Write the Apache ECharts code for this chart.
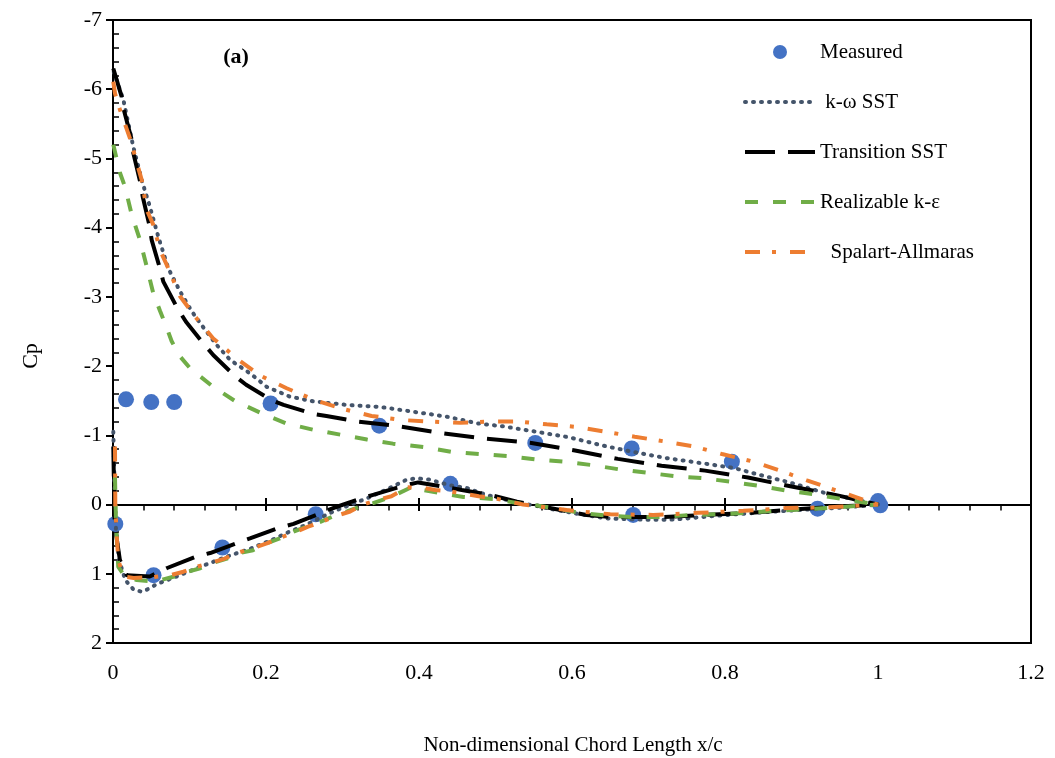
<!DOCTYPE html>
<html><head><meta charset="utf-8">
<script src="https://cdn.jsdelivr.net/npm/echarts@6/dist/echarts.min.js"></script>
<style>html,body{margin:0;padding:0;background:#fff}#c{width:1055px;height:758px}</style>
</head><body><div id="c"></div>
<script>
// ---- data ----
const xTicks = [0, 0.2, 0.4, 0.6, 0.8, 1, 1.2];
const cpTicks = [-7, -6, -5, -4, -3, -2, -1, 0, 1, 2];
const seriesNames = ['Measured', 'k-ω SST', 'Transition SST', 'Realizable k-ε', 'Spalart-Allmaras'];

const measuredX  = [0.003, 0.017, 0.050, 0.080, 0.053, 0.143, 0.206, 0.265, 0.348, 0.441, 0.552, 0.678, 0.680, 0.809, 0.921, 1.000, 1.003];
const measuredCp = [0.28, -1.52, -1.48, -1.48, 1.02, 0.62, -1.46, 0.14, -1.14, -0.30, -0.89, -0.81, 0.15, -0.62, 0.06, -0.05, 0.01];

const komegaUpper = [[0.001,-6.25],[0.0135,-5.85],[0.0265,-5.17],[0.0388,-4.64],[0.0475,-4.33],[0.0592,-3.87],[0.0723,-3.41],[0.0876,-3.08],[0.103,-2.79],[0.120,-2.53],[0.136,-2.30],[0.153,-2.09],[0.181,-1.88],[0.201,-1.70],[0.231,-1.56],[0.262,-1.49],[0.305,-1.44],[0.349,-1.41],[0.393,-1.34],[0.436,-1.27],[0.478,-1.17],[0.510,-1.13],[0.554,-1.05],[0.597,-0.97],[0.637,-0.86],[0.680,-0.76],[0.724,-0.67],[0.768,-0.60],[0.811,-0.53],[0.855,-0.40],[0.881,-0.33],[0.933,-0.16],[0.976,-0.06],[1.0,0.0]];
const komegaLower = [[0.0004,-1.05],[0.002,-0.3],[0.004,0.4],[0.008,0.8],[0.016,1.09],[0.027,1.23],[0.038,1.26],[0.048,1.21],[0.057,1.15],[0.083,1.04],[0.114,0.90],[0.149,0.75],[0.179,0.64],[0.210,0.50],[0.227,0.41],[0.253,0.29],[0.288,0.10],[0.332,-0.09],[0.362,-0.24],[0.384,-0.36],[0.397,-0.38],[0.414,-0.36],[0.440,-0.28],[0.462,-0.24],[0.488,-0.14],[0.506,-0.09],[0.532,-0.02],[0.554,0.02],[0.580,0.08],[0.610,0.14],[0.645,0.20],[0.671,0.21],[0.698,0.22],[0.724,0.22],[0.741,0.21],[0.780,0.17],[0.839,0.12],[0.881,0.09],[0.959,0.04],[1.0,0.0]];

const transUpper = [[0.0004,-6.30],[0.0114,-5.89],[0.0135,-5.73],[0.0244,-5.27],[0.0265,-5.08],[0.0353,-4.67],[0.0388,-4.45],[0.0475,-4.04],[0.0506,-3.82],[0.0614,-3.41],[0.0658,-3.22],[0.084,-2.84],[0.0954,-2.64],[0.118,-2.33],[0.131,-2.16],[0.159,-1.86],[0.174,-1.73],[0.207,-1.51],[0.223,-1.44],[0.262,-1.31],[0.279,-1.28],[0.319,-1.20],[0.375,-1.13],[0.431,-1.03],[0.488,-0.95],[0.547,-0.89],[0.604,-0.78],[0.660,-0.66],[0.717,-0.56],[0.774,-0.49],[0.830,-0.39],[0.887,-0.26],[0.944,-0.14],[1.0,0.0]];
const transLower = [[0.0004,-0.84],[0.002,0.2],[0.005,0.5],[0.009,0.80],[0.018,1.02],[0.048,1.04],[0.070,0.92],[0.109,0.75],[0.127,0.70],[0.161,0.56],[0.179,0.49],[0.216,0.34],[0.236,0.28],[0.270,0.13],[0.288,0.05],[0.325,-0.09],[0.340,-0.14],[0.379,-0.27],[0.399,-0.32],[0.436,-0.25],[0.456,-0.21],[0.493,-0.14],[0.528,-0.04],[0.571,0.05],[0.619,0.15],[0.650,0.18],[0.719,0.18],[0.772,0.15],[0.835,0.12],[0.889,0.07],[0.944,0.03],[1.0,0.0]];

const realUpper = [[0.0004,-5.20],[0.004,-5.03],[0.0092,-4.79],[0.0157,-4.59],[0.0244,-4.19],[0.0353,-3.82],[0.044,-3.44],[0.0527,-3.05],[0.0614,-2.80],[0.070,-2.56],[0.0767,-2.36],[0.0876,-2.14],[0.1007,-1.97],[0.131,-1.70],[0.159,-1.50],[0.194,-1.32],[0.227,-1.17],[0.262,-1.08],[0.297,-1.01],[0.332,-0.94],[0.366,-0.88],[0.406,-0.83],[0.443,-0.76],[0.480,-0.73],[0.517,-0.70],[0.554,-0.65],[0.589,-0.62],[0.626,-0.57],[0.661,-0.51],[0.698,-0.46],[0.735,-0.41],[0.772,-0.38],[0.807,-0.33],[0.844,-0.27],[0.881,-0.20],[0.915,-0.15],[0.953,-0.08],[1.0,0.0]];
const realLower = [[0.0026,-0.40],[0.004,0.3],[0.0069,0.90],[0.0157,1.04],[0.031,1.09],[0.053,1.11],[0.063,1.09],[0.080,1.04],[0.098,0.97],[0.114,0.92],[0.131,0.84],[0.149,0.78],[0.166,0.70],[0.183,0.66],[0.201,0.56],[0.218,0.49],[0.236,0.39],[0.253,0.32],[0.271,0.25],[0.288,0.17],[0.306,0.10],[0.323,0.03],[0.340,-0.02],[0.358,-0.09],[0.371,-0.15],[0.392,-0.26],[0.406,-0.21],[0.425,-0.17],[0.441,-0.14],[0.458,-0.11],[0.497,-0.08],[0.530,-0.02],[0.558,0.02],[0.576,0.05],[0.610,0.12],[0.645,0.16],[0.680,0.18],[0.719,0.18],[0.754,0.15],[0.791,0.14],[0.828,0.12],[0.865,0.09],[0.902,0.07],[0.939,0.045],[1.0,0.0]];

const saUpper = [[0.0004,-6.11],[0.0026,-5.94],[0.0092,-5.70],[0.0222,-5.29],[0.0375,-4.69],[0.044,-4.26],[0.0527,-4.04],[0.0614,-3.68],[0.0723,-3.41],[0.0876,-3.01],[0.107,-2.72],[0.131,-2.40],[0.164,-2.09],[0.193,-1.86],[0.227,-1.68],[0.266,-1.50],[0.301,-1.38],[0.338,-1.28],[0.379,-1.22],[0.414,-1.20],[0.454,-1.18],[0.493,-1.20],[0.530,-1.20],[0.567,-1.16],[0.608,-1.12],[0.645,-1.05],[0.682,-0.98],[0.722,-0.91],[0.759,-0.84],[0.796,-0.73],[0.837,-0.62],[0.872,-0.49],[0.907,-0.35],[0.944,-0.21],[0.981,-0.07],[1.0,0.0]];
const saLower = [[0.0026,-0.84],[0.003,0.0],[0.0049,0.46],[0.0069,0.80],[0.0135,1.04],[0.027,1.06],[0.050,1.05],[0.075,1.02],[0.092,0.97],[0.109,0.90],[0.129,0.84],[0.146,0.78],[0.162,0.70],[0.183,0.63],[0.201,0.56],[0.218,0.48],[0.238,0.40],[0.255,0.32],[0.273,0.25],[0.290,0.17],[0.310,0.10],[0.327,0.0],[0.347,-0.07],[0.364,-0.12],[0.385,-0.25],[0.406,-0.24],[0.421,-0.21],[0.441,-0.19],[0.478,-0.12],[0.499,-0.09],[0.536,0.0],[0.593,0.08],[0.650,0.14],[0.706,0.15],[0.765,0.12],[0.824,0.09],[0.881,0.05],[0.937,0.04],[1.0,0.0]];

// ---- chart ----
const FONT = '"Liberation Serif", "Times New Roman", serif';
const join = (u, l) => u.concat([[null, null]], l);
const measured = measuredX.map((x, i) => [x, measuredCp[i]]);

const chart = echarts.init(document.getElementById('c'), null, {renderer: 'canvas'});
const axisLineStyle = {color: '#000', width: 2};
const baseX = {type: 'value', min: xTicks[0], max: xTicks[xTicks.length - 1], interval: 0.2, splitLine: {show: false}};

chart.setOption({
  animation: false,
  backgroundColor: '#fff',
  grid: {left: 113, right: 24, top: 20, bottom: 115, show: true, borderColor: '#000', borderWidth: 2, outerBoundsMode: 'none'},
  xAxis: [
    Object.assign({}, baseX, {position: 'bottom', axisLine: {show: false, onZero: false}, axisTick: {show: false},
      axisLabel: {margin: 19, color: '#000', fontFamily: FONT, fontSize: 22}}),
    Object.assign({}, baseX, {position: 'top', axisLine: {show: true, onZero: true, onZeroAxisIndex: 0, lineStyle: axisLineStyle},
      axisTick: {show: true, length: 6.5, lineStyle: {color: '#000', width: 2}},
      minorTick: {show: true, splitNumber: 5, length: -6, lineStyle: {color: '#000', width: 1.5}},
      axisLabel: {show: false}}),
    Object.assign({}, baseX, {position: 'bottom', axisLine: {show: false, onZero: true, onZeroAxisIndex: 0},
      axisTick: {show: true, length: 6.5, lineStyle: {color: '#000', width: 2}}, axisLabel: {show: false}})
  ],
  yAxis: {
    type: 'value', inverse: true, min: cpTicks[0], max: cpTicks[cpTicks.length - 1], interval: 1,
    axisLine: {show: true, onZero: false, lineStyle: axisLineStyle},
    axisTick: {show: true, length: 7, lineStyle: {color: '#000', width: 2}},
    minorTick: {show: true, splitNumber: 5, length: -6, lineStyle: {color: '#000', width: 1.5}},
    splitLine: {show: false},
    axisLabel: {margin: 11, color: '#000', fontFamily: FONT, fontSize: 22}
  },
  legend: {
    orient: 'vertical', left: 738, top: 36, itemWidth: 70, itemHeight: 14, itemGap: 28,
    textStyle: {fontFamily: FONT, fontSize: 21, color: '#000', lineHeight: 22},
    itemStyle: {opacity: 0},
    lineStyle: {width: 4},
    data: seriesNames.map((n, i) => i === 0 ? {name: n, itemStyle: {opacity: 1, color: '#4472C4'}} : {name: n}),
    formatter: n => (n === 'k-ω SST' ? ' ' : n === 'Spalart-Allmaras' ? '  ' : '') + n
  },
  graphic: [
    {type: 'text', x: 31, y: 356, rotation: Math.PI / 2,
      style: {text: 'Cp', fill: '#000', font: '22px ' + FONT, align: 'center', verticalAlign: 'middle'}},
    {type: 'text', x: 573, y: 745,
      style: {text: 'Non-dimensional Chord Length x/c', fill: '#000', font: '21px ' + FONT, align: 'center', verticalAlign: 'middle'}},
    {type: 'text', x: 236, y: 57,
      style: {text: '(a)', fill: '#000', font: 'bold 22px ' + FONT, align: 'center', verticalAlign: 'middle'}}
  ],
  series: [
    {name: seriesNames[0], type: 'scatter', data: measured, symbol: 'circle', symbolSize: 16,
      itemStyle: {color: '#4472C4', opacity: 1}},
    {name: seriesNames[1], type: 'line', data: join(komegaUpper, komegaLower), showSymbol: false, symbol: 'none',
      color: '#44546A', lineStyle: {color: '#44546A', width: 4, type: [1, 7], cap: 'round'}},
    {name: seriesNames[2], type: 'line', data: join(transUpper, transLower), showSymbol: false, symbol: 'none',
      color: '#000', lineStyle: {color: '#000', width: 4, type: [30, 13]}},
    {name: seriesNames[3], type: 'line', data: join(realUpper, realLower), showSymbol: false, symbol: 'none',
      color: '#70AD47', lineStyle: {color: '#70AD47', width: 4, type: [13, 15]}},
    {name: seriesNames[4], type: 'line', data: join(saUpper, saLower), showSymbol: false, symbol: 'none',
      color: '#ED7D31', lineStyle: {color: '#ED7D31', width: 4, type: [15, 12, 4, 14]}}
  ]
});
</script>
</body></html>
